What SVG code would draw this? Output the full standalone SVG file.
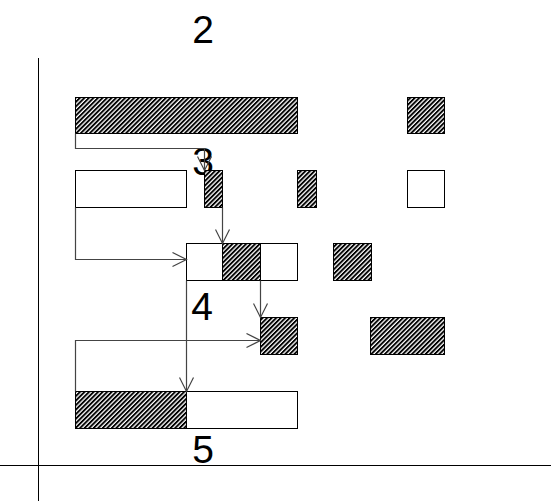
<svg xmlns="http://www.w3.org/2000/svg" width="551" height="501" viewBox="0 0 551 501">
<style>
.h{fill:url(#hatch);stroke:#000;stroke-width:1}
.e{fill:#fff;stroke:#000;stroke-width:1}
.c{fill:none;stroke:#444;stroke-width:1.2;marker-end:url(#arr)}
.ax{stroke:#000;stroke-width:1}
.t{font-family:"Liberation Sans",Arial,sans-serif;font-size:39px;fill:#000;text-anchor:middle}
</style>
<defs>
<pattern id="hatch" patternUnits="userSpaceOnUse" width="3.2" height="10" patternTransform="rotate(45)">
<rect x="0" y="0" width="3.2" height="10" fill="#fff"/>
<rect x="0" y="0" width="1.9" height="10" fill="#000"/>
</pattern>
<marker id="arr" markerUnits="userSpaceOnUse" markerWidth="16" markerHeight="16" viewBox="0 0 16 16" refX="15" refY="8" orient="auto">
<path d="M1,1 L15,8 L1,15" fill="none" stroke="#444" stroke-width="1.2"/>
</marker>
</defs>
<g id="axes">
<line class="ax" x1="38.5" y1="58" x2="38.5" y2="501"/>
<line class="ax" x1="0" y1="465.5" x2="551" y2="465.5"/>
</g>
<g id="labels">
<text class="t" x="203" y="43">2</text>
<text class="t" x="203" y="175">3</text>
<text class="t" x="202" y="320">4</text>
<text class="t" x="203" y="463">5</text>
</g>
<g id="n1"><rect class="h" x="75.5" y="97.5" width="222" height="36"/></g>
<g id="n2"><rect class="h" x="407.5" y="97.5" width="37" height="36"/></g>
<g id="n3"><rect class="e" x="75.5" y="170.5" width="111" height="37"/></g>
<g id="n4"><rect class="h" x="204.5" y="170.5" width="18" height="37"/></g>
<g id="n5"><rect class="h" x="297.5" y="170.5" width="19" height="37"/></g>
<g id="n6"><rect class="e" x="407.5" y="170.5" width="37" height="37"/></g>
<g id="n7">
<rect class="e" x="186.5" y="243.5" width="111" height="37"/>
<rect class="h" x="222.5" y="243.5" width="38" height="37"/>
</g>
<g id="n8"><rect class="h" x="333.5" y="243.5" width="38" height="37"/></g>
<g id="n9"><rect class="h" x="260.5" y="317.5" width="37" height="37"/></g>
<g id="n10"><rect class="h" x="370.5" y="317.5" width="74" height="37"/></g>
<g id="n11">
<rect class="h" x="75.5" y="391.5" width="111" height="37"/>
<rect class="e" x="186.5" y="391.5" width="111" height="37"/>
</g>
<g id="connectors">
<path class="c" d="M75.5,133.5 V148.5 H204.5 V170.5"/>
<path class="c" d="M222.5,207.5 V243.5"/>
<path class="c" d="M75.5,207.5 V259.5 H186.5"/>
<path class="c" d="M260.5,280.5 V317.5"/>
<path class="c" d="M75.5,391.5 V340.5 H260.5"/>
<path class="c" d="M186.5,280.5 V391.5"/>
</g>
</svg>
